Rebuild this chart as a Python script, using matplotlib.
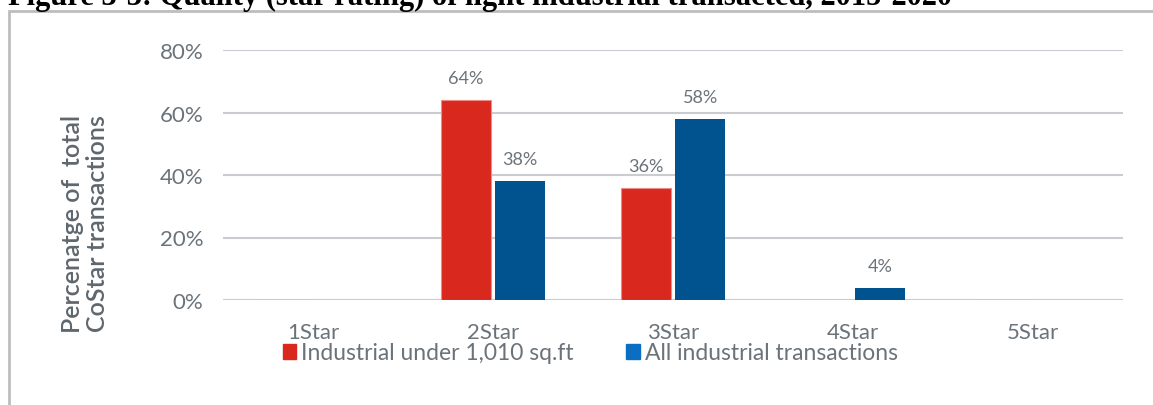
import numpy as np
import matplotlib.pyplot as plt
from matplotlib.patches import Patch, Rectangle

# star rating categories and shares of transactions
categories = ["1Star", "2Star", "3Star", "4Star", "5Star"]
small_units = [0.00, 0.64, 0.36, 0.00, 0.00]
all_units = [0.00, 0.38, 0.58, 0.04, 0.00]
series_names = ["Industrial under 1,010 sq.ft", "All industrial transactions"]
yticks = [0.0, 0.2, 0.4, 0.6, 0.8]

RED = "#D9281E"
BLUE = "#00538F"
LEGEND_BLUE = "#0A6FC2"
GREY_TEXT = "#6B737A"
GRID = "#C9CDD1"
FONT = "Lato"

W, H = 1153, 406
fig = plt.figure(figsize=(W / 100, H / 100), dpi=100)

# frame round the figure body
fig.patches.append(Rectangle((9 / W, -0.05), 1.2, 1 - 12 / H + 0.05,
                             transform=fig.transFigure, fill=False,
                             edgecolor="#BDBDBD", linewidth=2))

# heading, partly cut by the top edge
fig.text(8 / W, 1 - 5 / H, "Figure 3-3: Quality (star rating) of light industrial transacted, 2015-2020",
         ha="left", va="baseline", fontsize=22, fontweight="bold",
         family="Liberation Serif", color="black")

ax = fig.add_axes([223 / W, 1 - 301 / H, 900 / W, 250 / H])

x = np.arange(len(categories))
bw = 0.278
gap = 0.012
b1 = ax.bar(x - bw / 2 - gap, small_units, bw, color=RED, edgecolor="#F08A84", linewidth=0.8, zorder=3)
b2 = ax.bar(x + bw / 2 + gap, all_units, bw, color=BLUE, linewidth=0, zorder=3)

for bars, vals in ((b1, small_units), (b2, all_units)):
    for rect, v in zip(bars, vals):
        if v > 0:
            ax.annotate(f"{v:.0%}", (rect.get_x() + rect.get_width() / 2, v),
                        xytext=(0, 10), textcoords="offset points",
                        ha="center", va="bottom", fontsize=13,
                        family=FONT, color=GREY_TEXT)

ax.set_xlim(-0.5, len(categories) - 0.5)
ax.set_ylim(0, 0.8)
ax.set_yticks(yticks)
ax.set_yticklabels([f"{t:.0%}" for t in yticks])
ax.set_xticks(x)
ax.set_xticklabels(categories)
ax.tick_params(length=0, labelsize=16, labelcolor=GREY_TEXT)
ax.tick_params(axis="y", pad=14)
ax.tick_params(axis="x", pad=16)
for lab in ax.get_xticklabels() + ax.get_yticklabels():
    lab.set_family(FONT)

ax.yaxis.grid(True, color=GRID, linewidth=1.5, zorder=0)
ax.set_axisbelow(True)
for s in ax.spines.values():
    s.set_visible(False)

# axis title sits lower than the plot centre
fig.text(85 / W, 1 - 224 / H, "Percenatge of  total\nCoStar transactions",
         rotation=90, ha="center", va="center", fontsize=18, fontweight="semibold",
         family=FONT, color="#5F676E", linespacing=1.1)

handles = [Patch(color=RED), Patch(color=LEGEND_BLUE)]
fig.legend(handles, series_names, loc="center", bbox_to_anchor=(590 / W, 1 - 354 / H),
           ncol=2, frameon=False, handlelength=0.6, handleheight=0.6,
           handletextpad=0.2, columnspacing=2.3,
           prop={"family": FONT, "size": 16.5}, labelcolor=GREY_TEXT)

fig.savefig("out.png", dpi=100)
